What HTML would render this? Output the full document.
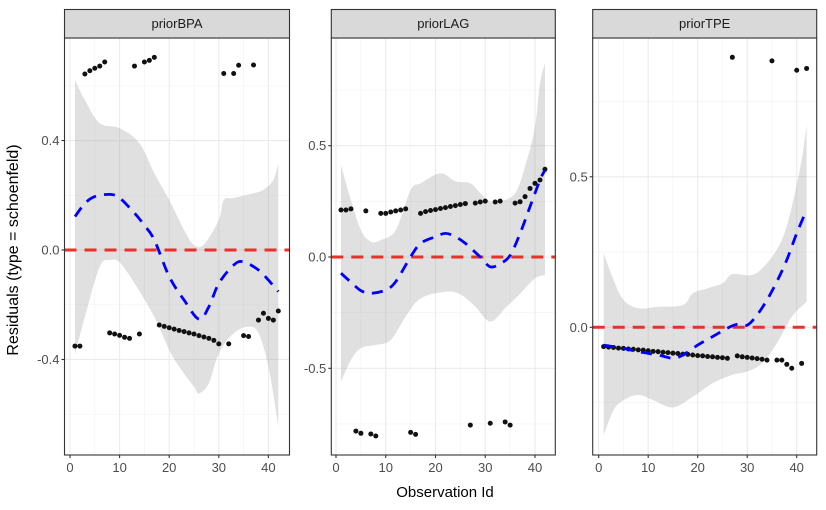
<!DOCTYPE html>
<html><head><meta charset="utf-8"><style>
body{margin:0;background:#fff;}
svg{display:block;font-family:"Liberation Sans",Arial,sans-serif;}
</style></head><body>
<svg id="chart" width="826" height="510" viewBox="0 0 826 510">
<text x="18" y="250" transform="rotate(-90 18 250)" text-anchor="middle" font-size="16" fill="#000">Residuals (type = schoenfeld)</text>
<text x="445" y="497" text-anchor="middle" font-size="15" fill="#000">Observation Id</text>
</svg>
<script>
// ---- priorBPA data ----
const bpaX = [3,4,5,6,7,13,15,16,17,31,33,34,37,1,2,8,9,10,11,12,14,18,19,20,21,22,23,24,25,26,27,28,29,30,32,35,36,38,39,40,41,42];
const bpaY = [0.643,0.655,0.664,0.672,0.687,0.672,0.687,0.693,0.704,0.645,0.645,0.675,0.676,-0.351,-0.351,-0.303,-0.307,-0.312,-0.319,-0.323,-0.307,-0.274,-0.279,-0.284,-0.289,-0.294,-0.298,-0.303,-0.307,-0.313,-0.318,-0.323,-0.330,-0.343,-0.343,-0.313,-0.316,-0.256,-0.231,-0.250,-0.256,-0.223];
const bpaFitX = [1,3,5,8,10,13,15,17,20,23,26,28,30,33,35,38,40,42];
const bpaFitY = [0.122,0.17,0.195,0.203,0.19,0.135,0.09,0.037,-0.097,-0.183,-0.253,-0.207,-0.122,-0.055,-0.043,-0.073,-0.11,-0.152];
const bpaBandX = [1,3,6,10,14,17,20,23,25,27,30,31,33,37,39,41,42];
const bpaUpper = [0.621,0.548,0.463,0.445,0.39,0.28,0.183,0.073,0.018,0.02,0.11,0.183,0.19,0.207,0.22,0.256,0.317];
const bpaLowX = [1,3,6,8,10,13,17,20,22,25,26,28,30,33,36,38,40,42];
const bpaLower = [-0.384,-0.244,-0.061,-0.037,-0.045,-0.122,-0.244,-0.365,-0.426,-0.5,-0.524,-0.487,-0.377,-0.304,-0.28,-0.304,-0.426,-0.645];
const bpaTicks = [-0.4,0.0,0.4];
const bpaTickLabels = ["-0.4","0.0","0.4"];
const bpaMinor = [-0.6,-0.2,0.2,0.6];

// ---- priorLAG data ----
const lagX = [1,2,3,6,9,10,11,12,13,14,17,18,19,20,21,22,23,24,25,26,28,29,30,32,33,36,37,38,39,40,41,42,4,5,7,8,15,16,27,31,34,35];
const lagY = [0.211,0.211,0.216,0.207,0.196,0.196,0.202,0.207,0.211,0.216,0.196,0.204,0.209,0.213,0.218,0.222,0.227,0.231,0.236,0.240,0.242,0.247,0.251,0.247,0.251,0.242,0.248,0.271,0.308,0.331,0.346,0.394,-0.782,-0.792,-0.795,-0.804,-0.788,-0.797,-0.755,-0.747,-0.741,-0.755];
const lagFitX = [1,3,5,7,10,12,15,17,20,22,24,26,29,31,33,35,37,39,41,42];
const lagFitY = [-0.073,-0.113,-0.151,-0.163,-0.148,-0.111,0.001,0.061,0.091,0.106,0.091,0.061,0.0,-0.044,-0.03,0.007,0.106,0.226,0.346,0.39];
const lagBandX = [1,3,5,7,9,12,15,17,21,24,27,29,31,33,36,38,40,41,42];
const lagUpper = [0.413,0.256,0.121,0.069,0.076,0.121,0.301,0.331,0.376,0.34,0.331,0.286,0.249,0.249,0.286,0.406,0.585,0.78,0.87];
const lagLowX = [1,3,5,8,11,14,17,22,25,28,31,34,37,40,42];
const lagLower = [-0.56,-0.463,-0.41,-0.395,-0.373,-0.268,-0.186,-0.156,-0.168,-0.223,-0.29,-0.23,-0.165,-0.096,-0.081];
const lagTicks = [-0.5,0.0,0.5];
const lagTickLabels = ["-0.5","0.0","0.5"];
const lagMinor = [-0.75,-0.25,0.25,0.75];

// ---- priorTPE data ----
const tpeX = [27,35,40,42,1,2,3,4,5,6,7,8,9,10,11,12,13,14,15,16,17,18,19,20,21,22,23,24,25,26,28,29,30,31,32,33,34,36,37,38,39,41];
const tpeY = [0.897,0.885,0.854,0.86,-0.064,-0.066,-0.067,-0.069,-0.070,-0.072,-0.073,-0.075,-0.076,-0.078,-0.080,-0.081,-0.083,-0.084,-0.086,-0.087,-0.089,-0.090,-0.092,-0.094,-0.095,-0.097,-0.098,-0.100,-0.101,-0.103,-0.095,-0.098,-0.100,-0.102,-0.104,-0.106,-0.109,-0.109,-0.109,-0.123,-0.136,-0.12];
const tpeFitX = [1,5,8,12,15,17,20,23,26,28,30,32,34,36,38,40,42];
const tpeFitY = [-0.059,-0.07,-0.081,-0.092,-0.103,-0.092,-0.059,-0.031,-0.003,0.01,0.007,0.041,0.091,0.152,0.224,0.312,0.39];
const tpeBandX = [1,3,5,8,12,17,19,22,25,27,31,34,37,39,41,42];
const tpeUpper = [0.246,0.157,0.091,0.063,0.068,0.074,0.113,0.13,0.146,0.177,0.174,0.213,0.29,0.4,0.556,0.672];
const tpeLowX = [1,3,5,8,11,15,19,23,27,30,33,36,39,42];
const tpeLower = [-0.358,-0.275,-0.242,-0.225,-0.242,-0.266,-0.231,-0.186,-0.158,-0.147,-0.119,-0.053,0.035,0.085];
const tpeTicks = [0.0,0.5];
const tpeTickLabels = ["0.0","0.5"];
const tpeMinor = [-0.25,0.25,0.75];

const xTicks = [0,10,20,30,40];
const xTickLabels = ["0","10","20","30","40"];
const xMinor = [5,15,25,35];

const NS = "http://www.w3.org/2000/svg";
const svg = document.getElementById('chart');
function mk(tag, attrs, parent){
  const e = document.createElementNS(NS, tag);
  for (const k in attrs) e.setAttribute(k, attrs[k]);
  (parent||svg).appendChild(e);
  return e;
}
// Catmull-Rom smooth path through screen points
function smooth(pts, start){
  let d = (start ? 'M' : 'L') + pts[0][0].toFixed(1) + ',' + pts[0][1].toFixed(1);
  for (let i = 0; i < pts.length - 1; i++) {
    const p0 = pts[i-1] || pts[i], p1 = pts[i], p2 = pts[i+1], p3 = pts[i+2] || p2;
    const c1x = p1[0] + (p2[0]-p0[0])/6, c1y = p1[1] + (p2[1]-p0[1])/6;
    const c2x = p2[0] - (p3[0]-p1[0])/6, c2y = p2[1] - (p3[1]-p1[1])/6;
    d += 'C' + c1x.toFixed(1)+','+c1y.toFixed(1)+' '+c2x.toFixed(1)+','+c2y.toFixed(1)+' '+p2[0].toFixed(1)+','+p2[1].toFixed(1);
  }
  return d;
}

const panels = [
  {name:'priorBPA', key:'bpa', left:64.5, right:289.5, x0:70, xs:4.96, y0:250, ys:273.7,
   px:bpaX, py:bpaY, fx:bpaFitX, fy:bpaFitY, ux:bpaBandX, uy:bpaUpper, lx:bpaLowX, ly:bpaLower,
   ticks:bpaTicks, labels:bpaTickLabels, minor:bpaMinor},
  {name:'priorLAG', key:'lag', left:331.3, right:555.3, x0:336, xs:4.975, y0:257, ys:222.6,
   px:lagX, py:lagY, fx:lagFitX, fy:lagFitY, ux:lagBandX, uy:lagUpper, lx:lagLowX, ly:lagLower,
   ticks:lagTicks, labels:lagTickLabels, minor:lagMinor},
  {name:'priorTPE', key:'tpe', left:592.7, right:816.7, x0:598.7, xs:4.95, y0:327.3, ys:301,
   px:tpeX, py:tpeY, fx:tpeFitX, fy:tpeFitY, ux:tpeBandX, uy:tpeUpper, lx:tpeLowX, ly:tpeLower,
   ticks:tpeTicks, labels:tpeTickLabels, minor:tpeMinor}
];
const TOP = 38, BOTTOM = 455, STRIPTOP = 9.5;

panels.forEach(p => {
  const g = mk('g', {});
  
  
  const X = v => p.x0 + v * p.xs;
  const Y = v => p.y0 - v * p.ys;
  const clipId = 'clip-' + p.key;
  const cp = mk('clipPath', {id: clipId}, g);
  mk('rect', {x:p.left, y:TOP, width:p.right-p.left, height:BOTTOM-TOP}, cp);
  p.minor.forEach(v => {
    const l = mk('line', {x1:p.left, x2:p.right, y1:Y(v), y2:Y(v), stroke:'#f2f2f2', 'stroke-width':0.6}, g);
    
    
  });
  xMinor.forEach(v => {
    const l = mk('line', {x1:X(v), x2:X(v), y1:TOP, y2:BOTTOM, stroke:'#f2f2f2', 'stroke-width':0.6}, g);
    
    
  });
  p.ticks.forEach(v => {
    const l = mk('line', {x1:p.left, x2:p.right, y1:Y(v), y2:Y(v), stroke:'#ebebeb', 'stroke-width':1.1}, g);
    
    
  });
  xTicks.forEach(v => {
    const l = mk('line', {x1:X(v), x2:X(v), y1:TOP, y2:BOTTOM, stroke:'#ebebeb', 'stroke-width':1.1}, g);
    
    
  });
  const inner = mk('g', {'clip-path':'url(#'+clipId+')'}, g);
  const up = p.ux.map((v,i) => [X(v), Y(p.uy[i])]);
  const lo = p.lx.map((v,i) => [X(v), Y(p.ly[i])]).reverse();
  const d = smooth(up, true) + smooth(lo, false) + 'Z';
  const band = mk('path', {d:d, fill:'#999', 'fill-opacity':0.3, stroke:'none'}, inner);
  
  
  p.px.forEach((v,i) => {
    const c = mk('circle', {cx:X(v), cy:Y(p.py[i]), r:2.5, fill:'#111'}, inner);
    
    
  });
  const z = mk('line', {x1:p.left, x2:p.right, y1:Y(0), y2:Y(0), stroke:'#e8312b', 'stroke-width':3, 'stroke-dasharray':'12 8'}, inner);
  
  
  const fp = p.fx.map((v,i) => [X(v), Y(p.fy[i])]);
  const f = mk('path', {d:smooth(fp, true), fill:'none', stroke:'#0000ff', 'stroke-width':2.8, 'stroke-dasharray':'11 8'}, inner);
  
  
  mk('rect', {x:p.left, y:TOP, width:p.right-p.left, height:BOTTOM-TOP, fill:'none', stroke:'#333', 'stroke-width':1.1}, g);
  const s = mk('rect', {x:p.left, y:STRIPTOP, width:p.right-p.left, height:TOP-STRIPTOP, fill:'#d9d9d9', stroke:'#333', 'stroke-width':1.1}, g);
  
  
  const st = mk('text', {x:(p.left+p.right)/2, y:28, 'text-anchor':'middle', 'font-size':13, fill:'#1a1a1a'}, g);
  st.textContent = p.name;
  
  
  p.ticks.forEach((v,i) => {
    mk('line', {x1:p.left-3, x2:p.left, y1:Y(v), y2:Y(v), stroke:'#333', 'stroke-width':1.1}, g);
    const t = mk('text', {x:p.left-5, y:Y(v)+4.5, 'text-anchor':'end', 'font-size':13, fill:'#4d4d4d'}, g);
    t.textContent = p.labels[i];
    
    
  });
  xTicks.forEach((v,i) => {
    mk('line', {x1:X(v), x2:X(v), y1:BOTTOM, y2:BOTTOM+3, stroke:'#333', 'stroke-width':1.1}, g);
    const t = mk('text', {x:X(v), y:BOTTOM+17, 'text-anchor':'middle', 'font-size':13, fill:'#4d4d4d'}, g);
    t.textContent = xTickLabels[i];
    
    
  });
});
</script>
</body></html>
